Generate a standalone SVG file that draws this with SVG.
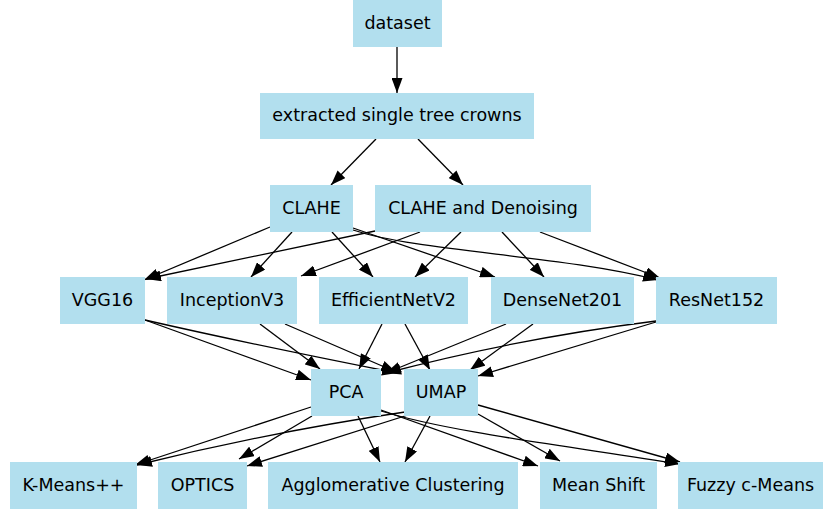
<svg xmlns="http://www.w3.org/2000/svg" width="825" height="509" viewBox="0 0 825 509">
<style>
.n rect{fill:#b2dfee;}
.n text{font-family:"DejaVu Sans",sans-serif;font-size:17.5px;fill:#000;text-anchor:middle;}
.e path{fill:none;stroke:#000;stroke-width:1.3;marker-end:url(#ah);}
</style>
<defs>
<marker id="ah" markerUnits="userSpaceOnUse" markerWidth="15" markerHeight="11" refX="15" refY="5.5" orient="auto" viewBox="0 0 15 11">
<path d="M0,0 L15,5.5 L0,11 z" fill="#000"/>
</marker>
</defs>
<rect width="825" height="509" fill="#fff"/>
<g class="e" id="edges">
<path d="M397,47 L397,93"/>
<path d="M376,139 L331,185"/>
<path d="M418,139 L463,185"/>
<path d="M270,227 L144,280"/>
<path d="M375,231 L146,279"/>
<path d="M292,232 L251,277"/>
<path d="M420,232 L301,276"/>
<path d="M332,232 L373,277"/>
<path d="M461,232 L415,277"/>
<path d="M353,228 L495,277"/>
<path d="M353,230 C420,252 560,255 658,280"/>
<path d="M502,232 L544,277"/>
<path d="M540,232 L660,278"/>
<path d="M145,320 L311,380"/>
<path d="M145,320 Q245,343 397,373"/>
<path d="M260,324 L320,369"/>
<path d="M285,324 L396,372"/>
<path d="M382,324 L359,369"/>
<path d="M405,324 L430,370"/>
<path d="M506,324 L386,373"/>
<path d="M533,324 L470,370"/>
<path d="M656,321 Q520,338 386,373"/>
<path d="M656,322 L478,376"/>
<path d="M311,407 L135,465"/>
<path d="M405,412 Q270,432 137,465"/>
<path d="M312,416 L239,459"/>
<path d="M408,415 L247,466"/>
<path d="M358,416 L380,462"/>
<path d="M430,416 L405,462"/>
<path d="M381,410 L538,466"/>
<path d="M478,414 L560,461"/>
<path d="M381,411 C450,432 560,445 680,464"/>
<path d="M478,405 L680,462"/>
</g>
<g class="n" id="dataset"><rect x="353" y="0" width="89" height="47"/><text x="397.5" y="28.5">dataset</text></g>
<g class="n" id="extracted"><rect x="260" y="93" width="274" height="46"/><text x="397" y="121">extracted single tree crowns</text></g>
<g class="n" id="clahe"><rect x="270" y="185" width="83" height="47"/><text x="311.5" y="213.5">CLAHE</text></g>
<g class="n" id="clahe_denoise"><rect x="375" y="185" width="216" height="47"/><text x="483" y="213.5">CLAHE and Denoising</text></g>
<g class="n" id="vgg16"><rect x="60" y="277" width="85" height="47"/><text x="102.5" y="305.5">VGG16</text></g>
<g class="n" id="inceptionv3"><rect x="167" y="277" width="130" height="47"/><text x="232" y="305.5">InceptionV3</text></g>
<g class="n" id="efficientnetv2"><rect x="319" y="277" width="149" height="47"/><text x="393.5" y="305.5">EfficientNetV2</text></g>
<g class="n" id="densenet201"><rect x="491" y="277" width="143" height="47"/><text x="562.5" y="305.5">DenseNet201</text></g>
<g class="n" id="resnet152"><rect x="656" y="277" width="121" height="47"/><text x="716.5" y="305.5">ResNet152</text></g>
<g class="n" id="pca"><rect x="311" y="369" width="70" height="47"/><text x="346" y="397.5">PCA</text></g>
<g class="n" id="umap"><rect x="404" y="369" width="74" height="47"/><text x="441" y="397.5">UMAP</text></g>
<g class="n" id="kmeans"><rect x="10" y="462" width="127" height="47"/><text x="73.5" y="490.5">K-Means++</text></g>
<g class="n" id="optics"><rect x="158" y="462" width="89" height="47"/><text x="202.5" y="490.5">OPTICS</text></g>
<g class="n" id="agglomerative"><rect x="268" y="462" width="250" height="47"/><text x="393" y="490.5">Agglomerative Clustering</text></g>
<g class="n" id="meanshift"><rect x="540" y="462" width="117" height="47"/><text x="598.5" y="490.5">Mean Shift</text></g>
<g class="n" id="fuzzy"><rect x="678" y="462" width="145" height="47"/><text x="750.5" y="490.5">Fuzzy c-Means</text></g>
</svg>
